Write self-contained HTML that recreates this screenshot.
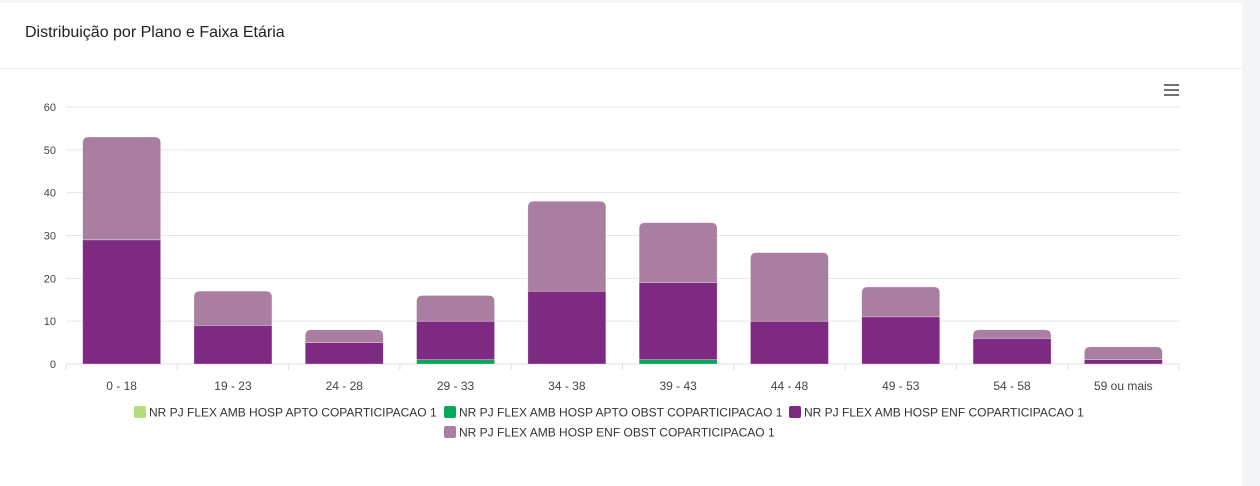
<!DOCTYPE html>
<html><head><meta charset="utf-8"><style>
body{margin:0;background:#f4f5f7;width:1260px;height:486px;overflow:hidden;font-family:"Liberation Sans",sans-serif}
#card{position:absolute;left:0;top:3px;width:1242px;height:483px;background:#fff}
#title{position:absolute;left:25px;top:21px;font-size:16px;color:#222}
#sep{position:absolute;left:0;top:65px;width:1242px;height:1px;background:#eef0f2}
svg{position:absolute;left:0;top:0}
</style></head><body>
<div id="card">
<div id="title">Distribuição por Plano e Faixa Etária</div>
<div id="sep"></div>
</div>
<svg id="chart" width="1260" height="486"></svg>
<script>
const categories=["0 - 18","19 - 23","24 - 28","29 - 33","34 - 38","39 - 43","44 - 48","49 - 53","54 - 58","59 ou mais"];
const seriesNames=["NR PJ FLEX AMB HOSP APTO COPARTICIPACAO 1","NR PJ FLEX AMB HOSP APTO OBST COPARTICIPACAO 1","NR PJ FLEX AMB HOSP ENF COPARTICIPACAO 1","NR PJ FLEX AMB HOSP ENF OBST COPARTICIPACAO 1"];
const aptoValues=[0,0,0,0,0,0,0,0,0,0];
const aptoObstValues=[0,0,0,1,0,1,0,0,0,0];
const enfValues=[29,9,5,9,17,18,10,11,6,1];
const enfObstValues=[24,8,3,6,21,14,16,7,2,3];
const yTicks=[0,10,20,30,40,50,60];
const colors=["#b5dd7f","#00a85a","#7e2a83","#a97ea0"];
const series=[aptoValues,aptoObstValues,enfValues,enfObstValues];
const NS="http://www.w3.org/2000/svg";
const svg=document.getElementById('chart');
const X0=66,X1=1179,Y0=364,Y1=107,YMAX=60;
const band=(X1-X0)/categories.length;
const y=v=>Y0-(v/YMAX)*(Y0-Y1);
const xc=i=>X0+band*(i+0.5);
function mk(t,a){const e=document.createElementNS(NS,t);for(const k in a)e.setAttribute(k,a[k]);svg.appendChild(e);return e;}
yTicks.forEach(t=>{
 const g=mk('line',{x1:X0,x2:X1,y1:y(t),y2:y(t),stroke:t===0?'#e0e0e0':'#e6e6e6','stroke-width':1});
 
 
 const l=mk('text',{x:56,y:y(t)+4,'text-anchor':'end','font-size':11,fill:'#444'});
 l.textContent=t;
 
 
});
for(let i=0;i<=categories.length;i++){
 const tk=mk('line',{x1:X0+band*i,x2:X0+band*i,y1:Y0,y2:Y0+6,stroke:'#e0e0e0'});
 
 
}
const bw=78,r=6;
categories.forEach((c,i)=>{
 let acc=0;
 let topIdx=-1;series.forEach((s,k)=>{if(s[i]>0)topIdx=k;});
 series.forEach((s,k)=>{
  const v=s[i];if(v<=0)return;
  const yb=y(acc),yt=y(acc+v);acc+=v;
  const xl=xc(i)-bw/2,xr=xl+bw;
  let d;
  if(k===topIdx){const rr=Math.min(r,yb-yt);d=`M${xl},${yb}V${yt+rr}Q${xl},${yt} ${xl+rr},${yt}H${xr-rr}Q${xr},${yt} ${xr},${yt+rr}V${yb}Z`;}
  else d=`M${xl},${yb}V${yt}H${xr}V${yb}Z`;
  const p=mk('path',{d:d,fill:colors[k],stroke:'#fff','stroke-width':0.6,'stroke-opacity':0.5});
  
  
 });
 const t=mk('text',{x:xc(i),y:390,'text-anchor':'middle','font-size':12,fill:'#444'});
 t.textContent=c;
 
 
});
const legendPos=[[134,412],[444,412],[789,412],[444,432]];
seriesNames.forEach((n,k)=>{
 const [lx,ly]=legendPos[k];
 const m=mk('rect',{x:lx,y:ly-6,width:12,height:12,rx:2,fill:colors[k]});
 
 
 const t=mk('text',{x:lx+15,y:ly+4.5,'font-size':12,fill:'#333'});
 t.textContent=n;
 
 
});
[84,89,94].forEach(yy=>{
 const l=mk('line',{x1:1164,x2:1179,y1:yy+1,y2:yy+1,stroke:'#6e7079','stroke-width':2});
 
 
});
</script>
</body></html>
